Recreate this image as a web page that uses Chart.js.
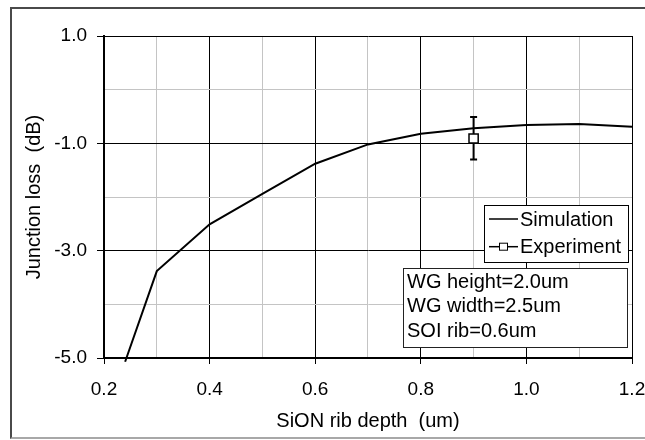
<!DOCTYPE html>
<html>
<head>
<meta charset="utf-8">
<script src="https://cdn.jsdelivr.net/npm/chart.js@4.4.0/dist/chart.umd.min.js"></script>
<style>
  html, body { margin: 0; padding: 0; background: #fff; overflow: hidden; }
  #frame { position: absolute; left: 10px; top: 7px; width: 700px; height: 428px;
           border-left: 2px solid #4a4a4a; border-top: 2px solid #4a4a4a; border-bottom: 2px solid #a8a8a8; }
  #chart { position: absolute; left: 0; top: 0; }
</style>
</head>
<body>
<div id="frame"></div>
<canvas id="chart" width="700" height="440"></canvas>
<script>
// values
const simDepth = [0.24, 0.3, 0.4, 0.5, 0.6, 0.7, 0.8, 0.9, 1.0, 1.1, 1.2];
const simLoss = [-5.07, -3.38, -2.51, -1.94, -1.38, -1.02, -0.82, -0.72, -0.66, -0.64, -0.69];
const expDepth = [0.9];
const expLoss = [-0.91];
const expErrUp = [0.40];
const expErrDown = [0.39];
const xTickLabels = ['0.2', '0.4', '0.6', '0.8', '1.0', '1.2'];
const yTickLabels = ['1.0', '-1.0', '-3.0', '-5.0'];
const noteLines = ['WG height=2.0um', 'WG width=2.5um', 'SOI rib=0.6um'];

const FONT = "'Liberation Sans', Arial, sans-serif";

function labelFor(list, value) {
  const hit = list.find(l => Math.abs(parseFloat(l) - value) < 1e-6);
  return hit === undefined ? '' : hit;
}

const errorBars = {
  id: 'errorBars',
  beforeDatasetsDraw(chart) {
    const { ctx, scales: { x, y } } = chart;
    ctx.save();
    ctx.strokeStyle = '#000';
    ctx.lineWidth = 2;
    expDepth.forEach((d, i) => {
      const px = x.getPixelForValue(d);
      const top = y.getPixelForValue(expLoss[i] + expErrUp[i]);
      const bot = y.getPixelForValue(expLoss[i] - expErrDown[i]);
      ctx.beginPath();
      ctx.moveTo(px, top); ctx.lineTo(px, bot);
      ctx.moveTo(px - 3.5, top); ctx.lineTo(px + 3.5, top);
      ctx.moveTo(px - 3.5, bot); ctx.lineTo(px + 3.5, bot);
      ctx.stroke();
    });
    ctx.restore();
  }
};

// legend box and the note box sit inside the plot area
const boxes = {
  id: 'boxes',
  afterDraw(chart) {
    const { ctx, chartArea: a } = chart;
    const sets = chart.data.datasets;
    ctx.save();
    ctx.font = '20px ' + FONT;
    ctx.textBaseline = 'middle';
    ctx.textAlign = 'left';

    const lx = a.right - 148, ly = a.top + 169, lw = 144, lh = 57;
    ctx.fillStyle = '#fff';
    ctx.fillRect(lx, ly, lw, lh);
    ctx.strokeStyle = '#000';
    ctx.lineWidth = 1;
    ctx.strokeRect(lx + 0.5, ly + 0.5, lw, lh);

    sets.forEach((ds, i) => {
      const ry = ly + 14 + i * 27.7;
      ctx.strokeStyle = '#000';
      ctx.lineWidth = 1.5;
      ctx.beginPath();
      ctx.moveTo(lx + 5, ry);
      ctx.lineTo(lx + 34, ry);
      ctx.stroke();
      if (ds.pointRadius > 0) {
        ctx.fillStyle = '#fff';
        ctx.fillRect(lx + 15.5, ry - 3.5, 8, 7);
        ctx.lineWidth = 1;
        ctx.strokeRect(lx + 15.5, ry - 3.5, 8, 7);
      }
      ctx.fillStyle = '#000';
      ctx.fillText(ds.label, lx + 36, ry + 1);
    });

    const nx = a.left + 299, ny = a.top + 232, nw = 224, nh = 79;
    ctx.fillStyle = '#fff';
    ctx.fillRect(nx, ny, nw, nh);
    ctx.strokeStyle = '#222';
    ctx.lineWidth = 1;
    ctx.strokeRect(nx + 0.5, ny + 0.5, nw, nh);
    ctx.fillStyle = '#000';
    noteLines.forEach((t, i) => {
      ctx.fillText(t, nx + 4, ny + 14 + i * 24.5);
    });
    ctx.restore();
  }
};

new Chart(document.getElementById('chart'), {
  type: 'line',
  data: {
    datasets: [{
      label: 'Simulation',
      data: simDepth.map((d, i) => ({ x: d, y: simLoss[i] })),
      borderColor: '#000',
      borderWidth: 2,
      pointRadius: 0,
      tension: 0,
      clip: false
    }, {
      label: 'Experiment',
      data: expDepth.map((d, i) => ({ x: d, y: expLoss[i] })),
      showLine: false,
      pointStyle: 'rect',
      pointRadius: 6.5,
      pointBackgroundColor: '#fff',
      pointBorderColor: '#000',
      pointBorderWidth: 1.5,
      clip: false
    }]
  },
  options: {
    responsive: false,
    animation: false,
    layout: { padding: { left: 0, top: 36, right: 68, bottom: 0 } },
    plugins: { legend: { display: false }, tooltip: { enabled: false } },
    scales: {
      x: {
        type: 'linear',
        min: 0.2,
        max: 1.2,
        afterFit: s => { s.height = 82; },
        border: { display: true, color: '#000', width: 2 },
        grid: {
          color: c => (c.tick && labelFor(xTickLabels, c.tick.value)) ? '#000' : '#c4c4c4',
          tickColor: c => (c.tick && labelFor(xTickLabels, c.tick.value)) ? '#000' : 'rgba(0,0,0,0)',
          tickLength: 6,
          lineWidth: 1
        },
        ticks: {
          stepSize: 0.1,
          autoSkip: false,
          maxRotation: 0,
          padding: 14,
          color: '#000',
          font: { family: FONT, size: 19 },
          callback: v => labelFor(xTickLabels, v)
        },
        title: {
          display: true,
          text: 'SiON rib depth  (um)',
          color: '#000',
          font: { family: FONT, size: 20 },
          padding: { top: 0, bottom: 7 }
        }
      },
      y: {
        type: 'linear',
        min: -5,
        max: 1,
        afterFit: s => { s.width = 104; },
        border: { display: true, color: '#000', width: 2 },
        grid: {
          color: c => (c.tick && labelFor(yTickLabels, c.tick.value)) ? '#000' : '#c4c4c4',
          tickColor: c => (c.tick && labelFor(yTickLabels, c.tick.value)) ? '#000' : 'rgba(0,0,0,0)',
          tickLength: 7,
          lineWidth: 1
        },
        ticks: {
          stepSize: 1,
          autoSkip: false,
          padding: 10,
          color: '#000',
          font: { family: FONT, size: 19 },
          callback: v => labelFor(yTickLabels, v)
        },
        title: {
          display: true,
          text: 'Junction loss  (dB)',
          color: '#000',
          font: { family: FONT, size: 20 },
          padding: { top: 22, bottom: 0 }
        }
      }
    }
  },
  plugins: [errorBars, boxes]
});
</script>
</body>
</html>
